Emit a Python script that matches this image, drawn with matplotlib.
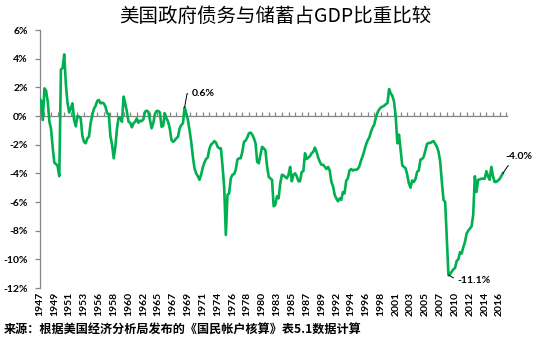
import matplotlib
matplotlib.use("Agg")
import matplotlib.pyplot as plt
from matplotlib.ticker import FixedLocator, FuncFormatter

# ---- data (quarterly, 1947Q1 ...), percent of GDP ----
values = [
    1.23, 1.05, -0.28, 1.93, 1.75, 1.0, -0.4, -0.9, -2.2, -3.25,
    -3.35, -3.5, -4.2, 3.25, 3.35, 4.3, 2.2, 0.9, 0.25, 0.53,
    0.88, -0.28, -0.72, 0.0, -0.05, -0.16, -1.4, -1.8, -1.9, -1.56,
    -1.44, -0.5, 0.05, 0.5, 0.7, 1.05, 1.12, 0.88, 0.93, 0.88,
    0.65, 0.19, 0.14, -1.4, -2.0, -2.95, -2.14, -0.86, -0.1, -0.16,
    -0.4, 1.35, 0.88, 0.3, -0.4, -0.47, -0.79, -0.5, -0.4, -0.16,
    -0.47, -0.33, -0.35, -0.23, 0.3, 0.37, 0.3, -0.28, -0.86, -0.5,
    0.14, 0.35, 0.35, 0.25, -0.75, -0.7, 0.19, -0.16, -0.4, -0.86,
    -1.67, -1.8, -1.7, -1.55, -1.45, -0.86, -0.63, -0.5, 0.6, 0.19,
    -0.28, -1.0, -1.8, -2.84, -3.65, -4.0, -4.2, -4.45, -4.1, -3.6,
    -3.25, -3.0, -2.9, -2.3, -2.0, -1.9, -1.75, -1.85, -2.15, -2.25,
    -2.25, -3.5, -5.0, -8.3, -5.5, -5.4, -4.35, -4.1, -4.05, -3.75,
    -3.05, -2.95, -2.95, -2.5, -1.8, -1.72, -1.5, -1.2, -1.16, -1.3,
    -1.55, -1.9, -3.2, -3.3, -2.7, -2.15, -2.25, -2.4, -3.5, -4.25,
    -4.35, -4.45, -6.3, -6.2, -5.6, -5.75, -4.7, -4.1, -4.15, -4.25,
    -4.35, -4.1, -3.55, -4.55, -4.1, -4.0, -4.2, -4.55, -4.55, -3.9,
    -3.85, -2.6, -3.0, -2.9, -2.8, -2.6, -2.5, -2.2, -2.5, -2.9,
    -3.2, -3.4, -3.4, -3.55, -3.7, -3.55, -3.8, -4.6, -4.9, -5.5,
    -5.75, -5.95, -5.75, -5.85, -5.3, -5.4, -4.5, -4.35, -3.8, -3.7,
    -3.8, -3.75, -3.75, -3.7, -3.5, -3.1, -2.8, -2.4, -2.0, -1.7,
    -1.5, -1.1, -0.8, -0.6, -0.1, 0.25, 0.45, 0.6, 0.65, 0.72,
    0.82, 0.9, 1.88, 1.58, 1.4, 1.0, 0.0, -1.9, -1.3, -2.4,
    -3.45, -3.55, -3.65, -4.1, -4.7, -5.0, -4.5, -4.6, -4.4, -3.9,
    -3.8, -3.05, -3.0, -2.85, -2.4, -1.95, -1.88, -1.88, -1.8, -1.75,
    -1.95, -2.15, -2.5, -3.2, -4.6, -5.85, -6.0, -8.6, -11.1, -11.05,
    -10.85, -10.7, -10.6, -10.1, -10.0, -9.5, -9.6, -9.15, -8.8, -8.2,
    -8.0, -7.85, -7.7, -6.9, -4.2, -5.3, -4.45, -4.42, -4.37, -4.37,
    -4.37, -3.85, -4.2, -4.45, -3.55, -4.2, -4.6, -4.6, -4.5, -4.4,
    -4.2, -4.0,
]
year_labels = ["1947", "1949", "1951", "1953", "1956", "1958", "1960", "1962",
               "1965", "1967", "1969", "1971", "1974", "1976", "1978", "1980",
               "1983", "1985", "1987", "1989", "1992", "1994", "1996", "1998",
               "2001", "2003", "2005", "2007", "2010", "2012", "2014", "2016"]
label_step = 9          # quarters between year labels
y_ticks = [6, 4, 2, 0, -2, -4, -6, -8, -10, -12]
title = "美国政府债务与储蓄占GDP比重比较"
source = "来源：根据美国经济分析局发布的《国民帐户核算》表5.1数据计算"
peak_idx, trough_idx = 88, 248

LINE = "#00B050"
AXIS = "#868686"
TICKFONT = dict(family=["Lato", "DejaVu Sans"], fontsize=7.5, weight="bold")

fig = plt.figure(figsize=(5.37, 3.47), dpi=100)
W, H = 537, 347
ax = fig.add_axes([39.5 / W, 1 - 288 / H, (507 - 39.5) / W, (288 - 30) / H])

x = list(range(len(values)))
ax.plot(x, values, color=LINE, lw=1.9, solid_joinstyle="round", zorder=3)

ax.set_ylim(-12, 6)
ax.set_xlim(0, 283.5)

# spines
for s in ("top", "right"):
    ax.spines[s].set_visible(False)
ax.spines["left"].set_color(AXIS)
ax.spines["left"].set_linewidth(0.9)
ax.spines["bottom"].set_position(("data", 0))
ax.spines["bottom"].set_color(AXIS)
ax.spines["bottom"].set_linewidth(0.9)

# y ticks
ax.yaxis.set_major_locator(FixedLocator(y_ticks))
ax.yaxis.set_major_formatter(FuncFormatter(lambda v, p: f"{int(v)}%"))
ax.tick_params(axis="y", direction="out", length=3.5, width=0.9, color=AXIS, pad=5)
for lab in ax.get_yticklabels():
    lab.set_fontfamily(TICKFONT["family"])
    lab.set_fontsize(TICKFONT["fontsize"])
    lab.set_fontweight(TICKFONT["weight"])

# x ticks on the zero line (yearly), labels at the bottom
ax.xaxis.set_major_locator(FixedLocator(list(range(3, 285, 4))))
ax.tick_params(axis="x", direction="in", length=3, width=0.9, color=AXIS, labelbottom=False)
trans = ax.get_xaxis_transform()
for k, lab in enumerate(year_labels):
    ax.text(k * label_step, -0.015, lab, transform=trans, rotation=90,
            ha="center", va="top", **TICKFONT)

# annotations
ax.annotate(f"{values[peak_idx]:.1f}%", xy=(peak_idx, values[peak_idx]),
            xytext=(92.5, 1.55), ha="left", va="center",
            fontsize=7.5, weight="bold", family=["Lato", "DejaVu Sans"],
            arrowprops=dict(arrowstyle="-", color="black", lw=0.7,
                            connectionstyle="angle,angleA=0,angleB=80,rad=0",
                            shrinkA=1, shrinkB=0, relpos=(0, 0.5)))
ax.annotate(f"{values[trough_idx]:.1f}%", xy=(trough_idx, values[trough_idx]),
            xytext=(253.5, -11.45), ha="left", va="center",
            fontsize=7.5, weight="bold", family=["Lato", "DejaVu Sans"],
            arrowprops=dict(arrowstyle="-", color="black", lw=0.7,
                            shrinkA=1, shrinkB=0, relpos=(0, 0.5)))
ax.annotate(f"{values[-1]:.1f}%", xy=(len(values) - 1, values[-1]),
            xytext=(290.8, -2.86), ha="center", va="center",
            fontsize=7.5, weight="bold", family=["Lato", "DejaVu Sans"],
            annotation_clip=False,
            arrowprops=dict(arrowstyle="-", color="black", lw=0.7,
                            shrinkA=1, shrinkB=0, relpos=(0.2, 0.0)))

fig.text(275 / W, 1 - 16 / H, title, ha="center", va="center", fontsize=14,
         family=["Noto Sans CJK SC", "DejaVu Sans"])
fig.text(4 / W, 1 - 330 / H, source, ha="left", va="center", fontsize=8.7,
         weight="bold", family=["Noto Sans CJK SC", "DejaVu Sans"])

fig.savefig("out.png", dpi=100, facecolor="white")
